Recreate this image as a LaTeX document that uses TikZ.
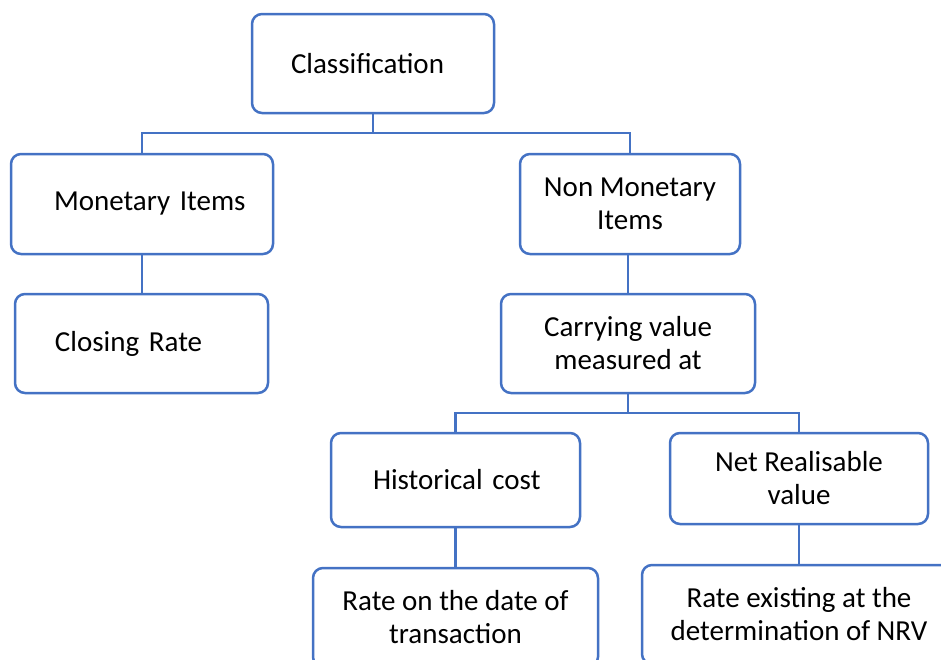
\documentclass[tikz,border=0pt]{standalone}
\usepackage{fontspec}
\setmainfont{Carlito}
\definecolor{boxblue}{RGB}{68,114,196}
\tikzset{
  box/.style={draw=boxblue, line width=1.25pt, rounded corners=5pt, fill=white,
    font=\fontsize{14.5}{16.5}\selectfont, inner ysep=0pt},
  cbox/.style={box, align=center, minimum width=#1},
  lbox/.style n args={2}{box, align=left, inner xsep=0pt, text width=#1,
    execute at begin node={\hspace*{#2}}},
  link/.style={draw=boxblue, line width=1.25pt}
}
\begin{document}
\begin{tikzpicture}[x=0.5pt,y=-0.5pt]
\useasboundingbox (0,0) rectangle (941,659);
\clip (0,0) rectangle (941,659);
\node[lbox={121pt}{19.5pt}, minimum height=49.5pt] (cls) at (373,63.5) {Classification};
\node[lbox={131pt}{21.5pt}, minimum height=50pt] (mon) at (142,204) {Monetary Items};
\node[cbox=110pt, minimum height=50pt] (non) at (630,204) {Non Monetary\\Items};
\node[lbox={126.5pt}{20pt}, minimum height=49.5pt] (clo) at (141.5,343.5) {Closing Rate};
\node[cbox=127pt, minimum height=49.5pt] (car) at (628,343.5) {Carrying value\\measured at};
\node[lbox={124.5pt}{21pt}, minimum height=47pt] (his) at (455.5,480) {Historical cost};
\node[cbox=129pt, minimum height=45.5pt] (nrv) at (799,478.5) {Net Realisable\\value};
\node[cbox=142.5pt, minimum height=49.5pt] (rtr) at (455.5,617.5) {Rate on the date of\\transaction};
\node[cbox=157pt, minimum height=49.5pt] (rnv) at (799,614.5) {Rate existing at the\\determination of NRV};

\coordinate (bus1) at (373,133);
\coordinate (bus2) at (628,413);
\draw[link] (cls.south) -- (bus1);
\draw[link] (mon.north) |- (bus1) -| (non.north);
\draw[link] (mon.south) -- (mon.south |- clo.north);
\draw[link] (car.north |- non.south) -- (car.north);
\draw[link] (car.south) -- (bus2);
\draw[link] (his.north) |- (bus2) -| (nrv.north);
\draw[link] (his.south) -- (rtr.north);
\draw[link] (nrv.south) -- (rnv.north);
\end{tikzpicture}
\end{document}
